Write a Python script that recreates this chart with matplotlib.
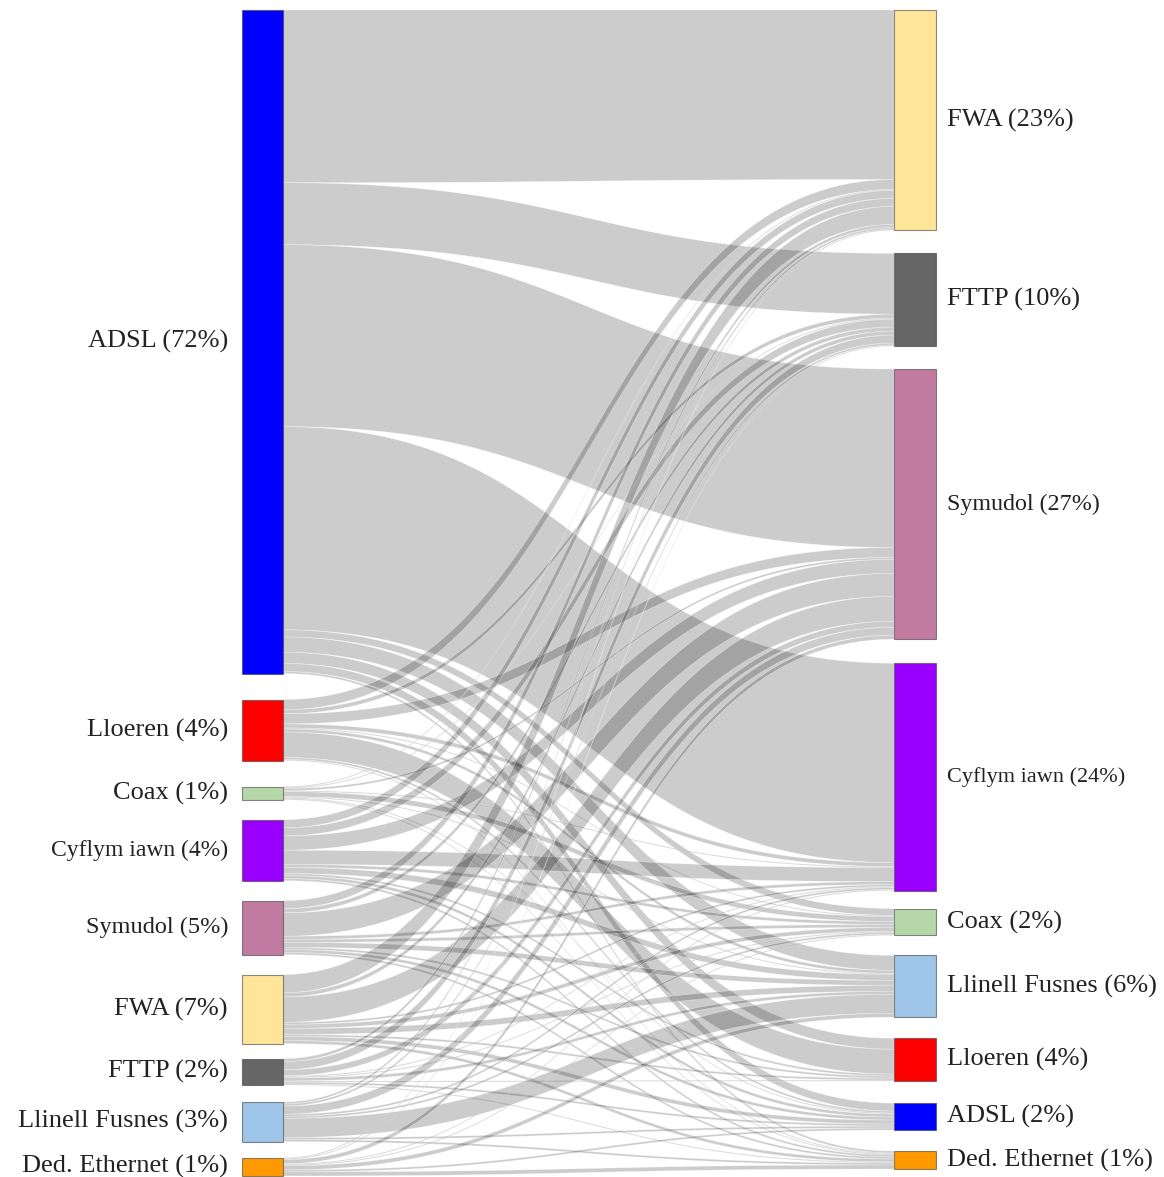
import numpy as np
import matplotlib.pyplot as plt
from matplotlib.patches import Rectangle, Polygon

# left column: technology before, right column: technology after
sources = ["ADSL (72%)", "Lloeren (4%)", "Coax (1%)", "Cyflym iawn (4%)", "Symudol (5%)",
           "FWA (7%)", "FTTP (2%)", "Llinell Fusnes (3%)", "Ded. Ethernet (1%)"]
targets = ["FWA (23%)", "FTTP (10%)", "Symudol (27%)", "Cyflym iawn (24%)", "Coax (2%)",
           "Llinell Fusnes (6%)", "Lloeren (4%)", "ADSL (2%)", "Ded. Ethernet (1%)"]

source_colors = ["#0000ff", "#ff0000", "#b6d7a8", "#9900ff", "#c27ba0",
                 "#ffe599", "#666666", "#9fc5e8", "#ff9900"]
target_colors = ["#ffe599", "#666666", "#c27ba0", "#9900ff", "#b6d7a8",
                 "#9fc5e8", "#ff0000", "#0000ff", "#ff9900"]

# flows in per mille, rows = sources, cols = targets (estimated from band widths)
#                FWA FTTP Sym Cyf Coax Llin Llo ADSL Ded
flows = np.array([
    [170, 61, 179, 200, 7, 15, 11, 8, 2],   # ADSL
    [10, 4, 10, 4, 1, 3, 25, 2, 1],         # Lloeren
    [1, 1, 2, 1, 5, 1, 0, 1, 1],            # Coax
    [8, 8, 14, 14, 3, 6, 2, 3, 2],          # Cyflym iawn
    [8, 4, 23, 3, 3, 5, 2, 3, 2],           # Symudol
    [18, 4, 25, 2, 4, 6, 2, 4, 3],          # FWA
    [3, 8, 6, 1, 1, 3, 1, 2, 1],            # FTTP
    [2, 2, 8, 2, 2, 19, 0, 2, 2],           # Llinell Fusnes
    [1, 1, 4, 1, 1, 4, 0, 2, 4],            # Ded. Ethernet
], dtype=float)

left_sizes = [19, 19, 19, 17, 17.5, 19, 19, 19, 19]
right_sizes = [19, 19, 17.3, 16, 19, 19, 19, 19, 19]

W, H = 1164, 1177
xl0, xl1 = 242, 283
xr0, xr1 = 894, 936
# gaps between nodes after the layout relaxed them
left_gaps = [26, 26, 20, 20, 20, 15, 17, 16]
right_gaps = [23, 23, 24, 18, 20, 21, 22, 21]


def column_layout(totals, gaps, y_top, y_bot):
    scale = (y_bot - y_top - sum(gaps)) / totals.sum()
    heights = totals * scale
    starts = y_top + np.concatenate([[0], np.cumsum(heights[:-1] + np.array(gaps))])
    return starts, heights, scale


src_tot = flows.sum(axis=1)
tgt_tot = flows.sum(axis=0)
src_y, src_h, src_k = column_layout(src_tot, left_gaps, 10, 1176)
tgt_y, tgt_h, tgt_k = column_layout(tgt_tot, right_gaps, 10, 1169)

fig = plt.figure(figsize=(W / 100, H / 100), dpi=100)
ax = fig.add_axes([0, 0, 1, 1])
ax.set_xlim(0, W)
ax.set_ylim(H, 0)
ax.axis('off')

t = np.linspace(0, 1, 80)
xm = (xl1 + xr0) / 2
bx = (1 - t) ** 3 * xl1 + 3 * (1 - t) ** 2 * t * xm + 3 * (1 - t) * t ** 2 * xm + t ** 3 * xr0
s = 3 * t ** 2 - 2 * t ** 3

# offsets at target are ordered by source, at source by target
tgt_start = np.zeros_like(flows)
for j in range(len(targets)):
    acc = tgt_y[j]
    for i in range(len(sources)):
        tgt_start[i, j] = acc
        acc += flows[i, j] * tgt_k

for i in range(len(sources)):
    acc = src_y[i]
    for j in range(len(targets)):
        v = flows[i, j]
        if v <= 0:
            continue
        y0a, y0b = acc, acc + v * src_k
        y1a, y1b = tgt_start[i, j], tgt_start[i, j] + v * tgt_k
        top_y = y0a + (y1a - y0a) * s
        bot_y = y0b + (y1b - y0b) * s
        pts = np.vstack([np.column_stack([bx, top_y]), np.column_stack([bx[::-1], bot_y[::-1]])])
        ax.add_patch(Polygon(pts, closed=True, facecolor=(0, 0, 0, 0.2),
                             edgecolor=(1, 1, 1, 0.5), linewidth=0.4, zorder=1))
        acc += v * src_k

# nodes
for i, name in enumerate(sources):
    ax.add_patch(Rectangle((xl0, src_y[i]), xl1 - xl0, src_h[i], facecolor=source_colors[i],
                           edgecolor=(0.25, 0.25, 0.25, 0.6), linewidth=0.8, zorder=3))
    ax.text(xl0 - 14, src_y[i] + src_h[i] / 2, name, ha='right', va='center',
            family='Liberation Serif', fontsize=left_sizes[i], color='#222222')

for j, name in enumerate(targets):
    ax.add_patch(Rectangle((xr0, tgt_y[j]), xr1 - xr0, tgt_h[j], facecolor=target_colors[j],
                           edgecolor=(0.25, 0.25, 0.25, 0.6), linewidth=0.8, zorder=3))
    ax.text(xr1 + 11, tgt_y[j] + tgt_h[j] / 2, name, ha='left', va='center',
            family='Liberation Serif', fontsize=right_sizes[j], color='#222222')

fig.savefig('out.png', dpi=100, facecolor='white')
